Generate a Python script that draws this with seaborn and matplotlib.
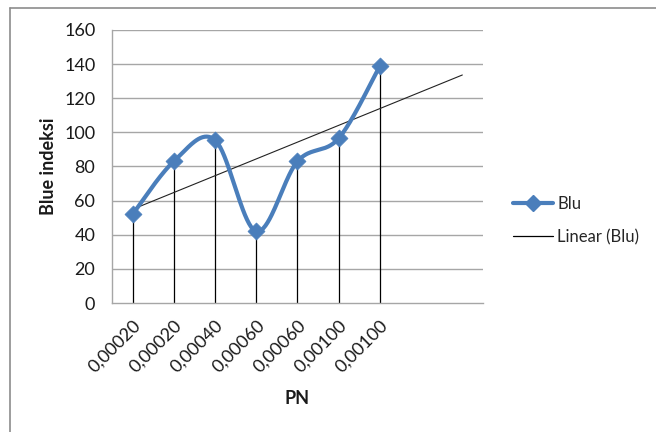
import numpy as np
import pandas as pd
import matplotlib
matplotlib.use("Agg")
import matplotlib.pyplot as plt
from matplotlib.lines import Line2D
import seaborn as sns

# Data
categories = ["0,00020", "0,00020", "0,00040", "0,00060", "0,00060", "0,00100", "0,00100"]
blu = [52, 83, 95.5, 42, 83, 96.5, 139]
y_ticks = [0, 20, 40, 60, 80, 100, 120, 140, 160]

sns.set_style("white")
plt.rcParams["font.family"] = ["Lato", "DejaVu Sans"]

BLUE = "#4A7EBB"
GRID = "#A6A6A6"
TXT = "#1a1a1a"

fig = plt.figure(figsize=(6.56, 4.32), dpi=100)
ax = fig.add_axes([0.1707, 0.2986, 0.5655, 0.632])

x = np.arange(len(blu), dtype=float)
y = np.asarray(blu, dtype=float)


def smooth(xs, ys, n=40):
    """Catmull-Rom spline through the points (Excel-style smoothed line)."""
    px = np.concatenate([[xs[0]], xs, [xs[-1]]])
    py = np.concatenate([[ys[0]], ys, [ys[-1]]])
    out_x, out_y = [], []
    for i in range(1, len(px) - 2):
        t = np.linspace(0, 1, n, endpoint=False)
        for p, out in ((px, out_x), (py, out_y)):
            p0, p1, p2, p3 = p[i - 1], p[i], p[i + 1], p[i + 2]
            c1 = p1 + (p2 - p0) / 6
            c2 = p2 - (p3 - p1) / 6
            out.extend((1 - t) ** 3 * p1 + 3 * (1 - t) ** 2 * t * c1
                       + 3 * (1 - t) * t ** 2 * c2 + t ** 3 * p2)
    out_x.append(xs[-1])
    out_y.append(ys[-1])
    return np.array(out_x), np.array(out_y)


# Gridlines
for v in y_ticks[1:]:
    ax.axhline(v, color=GRID, lw=1.0, zorder=0)

# Drop lines from each point down to the axis
ax.vlines(x, 0, y, color="black", lw=0.9, zorder=1)

# Linear trendline, forecast two periods forward
slope, intercept = np.polyfit(x, y, 1)
tx = np.array([0, len(blu) + 1], dtype=float)
trend = pd.DataFrame({"x": tx, "y": slope * tx + intercept})
sns.lineplot(data=trend, x="x", y="y", color="#222222", lw=0.8, ax=ax, zorder=2)

# Smoothed series with diamond markers
sx, sy = smooth(x, y)
curve = pd.DataFrame({"x": sx, "y": sy})
sns.lineplot(data=curve, x="x", y="y", color=BLUE, lw=3.0, ax=ax, zorder=3, sort=False)
pts = pd.DataFrame({"x": x, "y": y})
sns.scatterplot(data=pts, x="x", y="y", marker="D", s=75, color=BLUE,
                edgecolor=BLUE, linewidth=0.5, ax=ax, zorder=4)

ax.set_xlim(-0.5, 8.5)
ax.set_ylim(0, 160)
ax.set_yticks(y_ticks)
ax.set_yticklabels([str(v) for v in y_ticks], fontsize=13, color=TXT)
ax.set_xticks(x)
ax.set_xticklabels(categories, rotation=45, ha="right", rotation_mode="anchor",
                   fontsize=13, color=TXT)
ax.tick_params(axis="y", length=0, pad=12)
ax.tick_params(axis="x", length=0, pad=10)

for side in ("top", "right"):
    ax.spines[side].set_visible(False)
ax.spines["left"].set_color(GRID)
ax.spines["bottom"].set_color(GRID)
ax.spines["left"].set_linewidth(1.0)
ax.spines["bottom"].set_linewidth(1.0)

ax.set_xlabel("PN", fontsize=13, fontweight="bold", color=TXT)
ax.set_ylabel("Blue indeksi", fontsize=13, fontweight="bold", color=TXT)
ax.xaxis.set_label_coords(0.5, -0.32)
ax.yaxis.set_label_coords(-0.148, 0.5)

handles = [
    Line2D([0], [0], color=BLUE, lw=3.0, marker="D", markersize=8,
           markerfacecolor=BLUE, markeredgecolor=BLUE),
    Line2D([0], [0], color="black", lw=0.9),
]
ax.legend(handles, ["Blu", "Linear (Blu)"], loc="center left",
          bbox_to_anchor=(1.081, 0.302), frameon=False, fontsize=12,
          borderpad=0, borderaxespad=0,
          handlelength=2.4, handletextpad=0.25, labelspacing=1.0)

# Chart area border (left and top edges)
fig.add_artist(Line2D([10 / 656, 10 / 656], [0, 1 - 8 / 432],
                      transform=fig.transFigure, color="#8C8C8C", lw=1.2))
fig.add_artist(Line2D([10 / 656, 1], [1 - 8 / 432, 1 - 8 / 432],
                      transform=fig.transFigure, color="#8C8C8C", lw=1.2))

fig.savefig("out.png", dpi=100)
